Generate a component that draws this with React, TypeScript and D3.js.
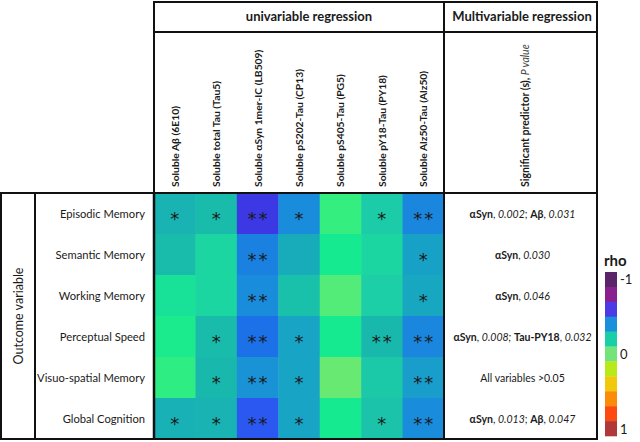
import React from 'react';
import * as d3 from 'd3';

const outcomes = ['Episodic Memory', 'Semantic Memory', 'Working Memory', 'Perceptual Speed', 'Visuo-spatial Memory', 'Global Cognition'];
const predictors = ['Soluble Aβ (6E10)', 'Soluble total Tau (Tau5)', 'Soluble αSyn 1mer-IC (LB509)', 'Soluble pS202-Tau (CP13)', 'Soluble pS405-Tau (PG5)', 'Soluble pY18-Tau (PY18)', 'Soluble Alz50-Tau (Alz50)'];

// estimated rho per outcome (rows) x predictor (columns)
const rhoEpisodic = [-0.27, -0.24, -0.6, -0.4, -0.05, -0.18, -0.41];
const rhoSemantic = [-0.24, -0.15, -0.42, -0.3, -0.1, -0.15, -0.34];
const rhoWorking = [-0.12, -0.15, -0.4, -0.22, -0.02, -0.17, -0.32];
const rhoPerceptual = [-0.09, -0.24, -0.45, -0.33, -0.1, -0.25, -0.41];
const rhoVisuo = [-0.06, -0.25, -0.38, -0.33, 0.0, -0.19, -0.35];
const rhoGlobal = [-0.28, -0.27, -0.5, -0.33, -0.1, -0.21, -0.4];
const rho = [rhoEpisodic, rhoSemantic, rhoWorking, rhoPerceptual, rhoVisuo, rhoGlobal];

// number of significance asterisks
const stars = [
  [1, 1, 2, 1, 0, 1, 2],
  [0, 0, 2, 0, 0, 0, 1],
  [0, 0, 2, 0, 0, 0, 1],
  [0, 1, 2, 1, 0, 2, 2],
  [0, 1, 2, 1, 0, 0, 2],
  [1, 1, 2, 1, 0, 1, 2],
];

// multivariable result text segments: [text, style] b=bold i=italic r=regular
const multivariable: [string, string][][] = [
  [['αSyn', 'b'], [', ', 'r'], ['0.002', 'i'], ['; ', 'r'], ['Aβ', 'b'], [', ', 'r'], ['0.031', 'i']],
  [['αSyn', 'b'], [', ', 'r'], ['0.030', 'i']],
  [['αSyn', 'b'], [', ', 'r'], ['0.046', 'i']],
  [['αSyn', 'b'], [', ', 'r'], ['0.008;', 'i'], [' ', 'r'], ['Tau-PY18', 'b'], [', ', 'r'], ['0.032', 'i']],
  [['All variables >0.05', 'r']],
  [['αSyn', 'b'], [', ', 'r'], ['0.013', 'i'], ['; ', 'r'], ['Aβ', 'b'], [', ', 'r'], ['0.047', 'i']],
];

const legendColors = ['#5c2468', '#8a2090', '#4b3ae6', '#1a90dc', '#18cfa8', '#74e47a', '#b8ea1a', '#f2c80a', '#fa8c0a', '#fc4a10', '#b03838'];
const legendTicks: [string, number][] = [['-1', 0], ['0', 5], ['1', 10]];

const colorStops = [-0.6, -0.5, -0.45, -0.4, -0.33, -0.25, -0.18, -0.15, -0.1, -0.05, 0];
const colorStopValues = ['#3c38e4', '#2a58f0', '#1c70e8', '#1a8cdc', '#18a4c4', '#18b8ac', '#1ccca8', '#1cd6a2', '#16ea90', '#34ee80', '#68ea72'];

const FONT = 'Lato, "Open Sans", sans-serif';
const INK = '#1a1a1a';

export default function App() {
  const x = d3.scaleBand<string>().domain(predictors).range([154, 444]);
  const y = d3.scaleBand<string>().domain(outcomes).range([193, 439]);
  const color = d3.scaleLinear<string>().domain(colorStops).range(colorStopValues).interpolate(d3.interpolateRgb).clamp(true);
  const ly = d3.scaleBand<number>().domain(d3.range(legendColors.length)).range([272, 436]);

  const headTop = 2;
  const headRow = 32;
  const bodyTop = 193;
  const bodyBottom = 439;
  const multiRight = 597;
  const divX = 444;
  const leftX = 1;
  const innerX = 35;

  return (
    <svg width={640} height={442} style={{ position: 'absolute', left: 0, top: 0, background: '#fff' }} fontFamily={FONT}>
      <rect x={0} y={0} width={640} height={442} fill="#fff" />
      {/* heatmap cells */}
      {outcomes.map((o, i) =>
        predictors.map((p, j) => (
          <rect key={`${i}-${j}`} x={x(p)} y={y(o)} width={x.bandwidth() + 0.5} height={y.bandwidth() + 0.5} fill={color(rho[i][j])} />
        ))
      )}
      {/* asterisks */}
      {outcomes.map((o, i) =>
        predictors.map((p, j) => {
          const n = stars[i][j];
          const cx = (x(p) as number) + x.bandwidth() / 2;
          const cy = (y(o) as number) + y.bandwidth() / 2;
          return d3.range(n).map((k) => (
            <text key={`${i}-${j}-${k}`} x={cx + (k - (n - 1) / 2) * 11} y={cy + 11} textAnchor="middle" fontFamily="DejaVu Sans" fontSize={18} fill={INK}>*</text>
          ));
        })
      )}
      {/* header texts */}
      <text x={309} y={21} textAnchor="middle" fontSize={13} fontWeight={700} fill={INK}>univariable regression</text>
      <text x={522} y={21} textAnchor="middle" fontSize={13} fontWeight={700} fill={INK}>Multivariable regression</text>
      {predictors.map((p) => (
        <text key={p} transform={`translate(${(x(p) as number) + x.bandwidth() / 2 + 4},187) rotate(-90)`} fontSize={10.3} fontWeight={700} fill={INK}>{p}</text>
      ))}
      <text transform={`translate(${(divX + multiRight) / 2 + 8},187) rotate(-90)`} fontSize={10.5} fill={INK} style={{ whiteSpace: 'pre' }}>
        <tspan fontWeight={700}>Significant predictor (s), </tspan>
        <tspan fontStyle="italic" fill="#444">P value</tspan>
      </text>
      {/* row labels */}
      {outcomes.map((o) => (
        <text key={o} x={145} y={(y(o) as number) + y.bandwidth() / 2 + 4.5} textAnchor="end" fontSize={11.2} fill={INK}>{o}</text>
      ))}
      <text transform={`translate(${(leftX + innerX) / 2 + 4.5},${(bodyTop + bodyBottom) / 2}) rotate(-90)`} textAnchor="middle" fontSize={12.5} fill={INK}>Outcome variable</text>
      {/* multivariable texts */}
      {outcomes.map((o, i) => (
        <text key={o} x={(divX + multiRight) / 2 + 2} y={(y(o) as number) + y.bandwidth() / 2 + 4} textAnchor="middle" fontSize={10.5} fill={INK} style={{ whiteSpace: 'pre' }}>
          {multivariable[i].map(([t, s], k) => (
            <tspan key={k} fontWeight={s === 'b' ? 700 : 400} fontStyle={s === 'i' ? 'italic' : 'normal'}>{t}</tspan>
          ))}
        </text>
      ))}
      {/* grid lines */}
      <g stroke="#111" strokeWidth={2} fill="none">
        <rect x={154} y={headTop} width={multiRight - 154} height={bodyTop - headTop} />
        <line x1={154} x2={multiRight} y1={headRow} y2={headRow} />
        <line x1={divX} x2={divX} y1={headTop} y2={bodyBottom} />
        <rect x={leftX} y={bodyTop} width={multiRight - leftX} height={bodyBottom - bodyTop} />
        <line x1={innerX} x2={innerX} y1={bodyTop} y2={bodyBottom} />
        <line x1={154} x2={154} y1={bodyTop} y2={bodyBottom} strokeWidth={2.5} />
      </g>
      {/* legend */}
      <text x={604} y={266} fontSize={15} fontWeight={700} fill={INK}>rho</text>
      {legendColors.map((c, k) => (
        <rect key={k} x={605} y={ly(k)} width={12} height={ly.bandwidth() + 0.3} fill={c} />
      ))}
      {legendTicks.map(([t, k]) => (
        <text key={t} x={620} y={(ly(k) as number) + ly.bandwidth() / 2 + 5} fontSize={13} fill={INK}>{t}</text>
      ))}
    </svg>
  );
}
